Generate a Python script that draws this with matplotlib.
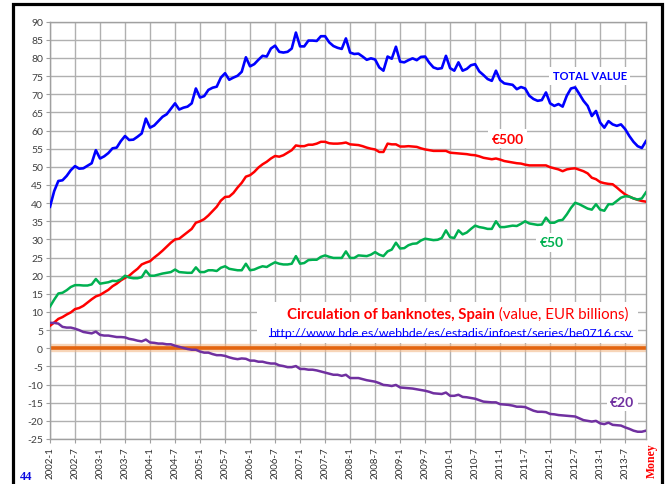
import matplotlib
matplotlib.use("Agg")
import matplotlib.pyplot as plt
import numpy as np
from matplotlib.patches import Rectangle
from matplotlib.lines import Line2D

# ---------------- data (EUR billions, monthly 2002-1 .. 2013-12) ----------------
years = list(range(2002, 2014))
months = [f"{y}-{m}" for y in years for m in range(1, 13)]

total_value = [
    39.0, 43.3, 46.1, 46.3, 47.5, 49.1, 50.2, 49.5, 49.6, 50.3, 51.0, 54.6,
    52.3, 52.9, 53.8, 55.1, 55.3, 57.1, 58.5, 57.4, 57.5, 58.3, 59.2, 63.3,
    60.8, 61.4, 62.6, 63.8, 64.5, 66.0, 67.5, 65.8, 66.3, 66.6, 67.5, 71.6,
    69.1, 69.5, 71.2, 71.8, 72.1, 74.6, 75.8, 74.0, 74.6, 75.1, 76.2, 80.2,
    77.7, 78.3, 79.5, 80.6, 80.4, 82.6, 83.4, 81.7, 81.5, 81.7, 82.6, 87.0,
    83.2, 83.2, 84.8, 84.8, 84.7, 86.0, 86.0, 84.3, 83.3, 82.8, 82.5, 85.4,
    81.5, 81.1, 81.2, 80.4, 79.5, 79.9, 79.6, 77.4, 76.5, 80.4, 79.8, 83.1,
    79.0, 78.8, 79.4, 79.9, 79.4, 80.3, 80.4, 78.7, 77.4, 77.0, 77.2, 80.6,
    77.2, 76.5, 78.8, 76.5, 77.0, 78.0, 78.3, 76.3, 75.3, 74.2, 73.7, 76.5,
    73.9, 73.0, 72.8, 72.6, 71.4, 72.0, 71.6, 69.6, 68.7, 68.2, 68.4, 70.5,
    67.5, 66.8, 67.3, 66.6, 69.6, 71.6, 71.9, 70.1, 68.2, 66.8, 64.0, 65.4,
    62.2, 60.8, 62.6, 61.7, 61.3, 61.7, 60.4, 58.5, 56.9, 55.7, 55.2, 57.1,
]

eur500 = [
    6.2, 7.1, 8.1, 8.6, 9.3, 9.9, 10.8, 11.1, 11.7, 12.6, 13.5, 14.3,
    14.7, 15.4, 16.1, 17.1, 17.8, 18.7, 19.4, 20.0, 21.0, 21.9, 23.1, 23.6,
    24.0, 25.0, 25.9, 26.9, 28.0, 29.1, 30.0, 30.2, 31.1, 32.0, 32.9, 34.6,
    35.0, 35.6, 36.6, 37.8, 39.0, 40.7, 41.7, 41.8, 42.8, 44.3, 45.6, 47.3,
    47.7, 48.6, 49.8, 50.7, 51.4, 52.3, 53.0, 52.8, 53.2, 53.9, 54.6, 55.9,
    55.7, 55.7, 56.1, 56.1, 56.4, 56.9, 56.9, 56.5, 56.4, 56.4, 56.5, 56.7,
    56.2, 56.1, 56.0, 55.7, 55.3, 55.0, 54.8, 54.1, 54.1, 56.4, 56.2, 56.2,
    55.6, 55.6, 55.7, 55.6, 55.5, 55.1, 54.8, 54.6, 54.4, 54.4, 54.4, 54.4,
    53.9, 53.8, 53.7, 53.6, 53.5, 53.3, 53.2, 52.9, 52.5, 52.3, 52.1, 52.3,
    52.0, 51.6, 51.4, 51.2, 51.0, 50.9, 50.6, 50.4, 50.4, 50.4, 50.4, 50.4,
    49.9, 49.6, 49.3, 48.8, 49.3, 49.5, 49.6, 49.2, 48.8, 48.2, 47.0, 46.6,
    45.8, 45.5, 45.3, 45.2, 44.3, 43.3, 42.4, 41.8, 41.3, 40.9, 40.6, 40.4,
]

eur50 = [
    11.5, 13.4, 15.1, 15.3, 16.0, 16.9, 17.4, 17.4, 17.3, 17.3, 17.6, 19.1,
    17.8, 18.0, 18.2, 18.6, 18.5, 19.0, 20.0, 19.5, 19.3, 19.3, 19.6, 21.4,
    20.0, 20.0, 20.3, 20.6, 20.8, 21.0, 21.7, 21.0, 20.9, 20.8, 20.8, 22.3,
    21.0, 21.0, 21.5, 21.5, 21.3, 22.2, 22.6, 21.9, 21.7, 21.5, 21.5, 23.3,
    21.5, 21.7, 22.2, 22.6, 22.4, 23.1, 23.7, 23.3, 23.1, 23.1, 23.3, 25.4,
    23.3, 23.5, 24.3, 24.4, 24.4, 25.2, 25.6, 25.2, 24.9, 24.9, 24.9, 26.7,
    24.9, 24.9, 25.6, 25.5, 25.4, 25.8, 26.5, 25.8, 25.4, 26.7, 27.2, 29.1,
    27.5, 27.6, 28.4, 28.8, 28.9, 29.7, 30.2, 30.0, 29.8, 29.9, 30.4, 32.5,
    30.6, 30.4, 32.5, 31.4, 31.9, 32.9, 33.8, 33.4, 33.2, 32.9, 32.9, 35.0,
    33.4, 33.4, 33.6, 33.8, 33.7, 34.3, 35.0, 34.4, 34.2, 34.0, 34.1, 36.0,
    34.6, 34.6, 35.2, 35.4, 36.9, 38.7, 40.1, 39.7, 39.1, 38.5, 38.2, 39.7,
    38.2, 37.9, 39.7, 39.7, 40.6, 41.5, 41.9, 41.8, 41.3, 41.0, 41.3, 43.0,
]

eur20 = [
    7.0, 7.0, 6.8, 5.9, 5.7, 5.7, 5.4, 5.0, 4.5, 4.3, 4.1, 4.6,
    3.7, 3.5, 3.5, 3.3, 3.1, 3.1, 3.0, 2.6, 2.4, 2.1, 1.9, 2.4,
    1.6, 1.5, 1.3, 1.3, 1.1, 1.1, 0.7, 0.4, 0.1, -0.2, -0.4, -0.4,
    -0.9, -1.2, -1.2, -1.6, -1.9, -1.9, -2.1, -2.5, -2.8, -3.0, -2.8, -2.9,
    -3.4, -3.4, -3.7, -3.7, -4.0, -4.2, -4.2, -4.7, -4.9, -5.2, -5.2, -4.9,
    -5.7, -5.7, -5.9, -5.9, -6.1, -6.4, -6.7, -7.0, -7.3, -7.3, -7.6, -7.3,
    -8.2, -8.2, -8.2, -8.5, -8.8, -9.0, -9.2, -9.6, -10.1, -10.2, -10.4, -10.1,
    -10.8, -10.9, -11.0, -11.1, -11.3, -11.5, -11.7, -12.0, -12.4, -12.5, -12.6, -12.2,
    -13.1, -13.1, -12.8, -13.4, -13.5, -13.7, -13.9, -14.3, -14.7, -14.8, -14.9, -14.9,
    -15.4, -15.5, -15.6, -15.8, -16.1, -16.1, -16.2, -16.7, -17.2, -17.5, -17.5, -17.6,
    -18.1, -18.2, -18.4, -18.5, -18.6, -18.7, -18.8, -19.3, -19.8, -20.0, -20.2, -20.0,
    -20.7, -20.9, -20.5, -21.1, -21.2, -21.3, -21.8, -22.2, -22.7, -23.0, -23.0, -22.7,
]

tick_labels = months[::6]
y_ticks = list(range(-25, 91, 5))

# ---------------- figure ----------------
plt.rcParams['font.family'] = ['Lato', 'DejaVu Sans']
fig = plt.figure(figsize=(6.67, 4.85), dpi=100)
ax = fig.add_axes([50 / 667, 1 - 440 / 485, 596 / 667, (440 - 22.7) / 485])

x = np.arange(len(months))
grid_c = '#b0b0b0'
ax.set_xlim(0, len(months) - 1)
ax.set_ylim(-25, 90)
ax.set_xticks(x[::6])
ax.set_xticklabels(tick_labels, rotation=90, fontsize=7, color='#303030')
ax.set_yticks(y_ticks)
ax.set_yticklabels([str(v) for v in y_ticks], fontsize=7.5, color='#404040')
ax.set_axisbelow(True)
ax.grid(True, color=grid_c, linewidth=1.0)
for s in ax.spines.values():
    s.set_color('#a0a0a0')
    s.set_linewidth(1.0)
ax.tick_params(axis='both', length=3, color='#a0a0a0', pad=2)

# white box behind title
ax.add_patch(Rectangle((0.347, 0.231), 0.640, 0.098, transform=ax.transAxes,
                       facecolor='white', edgecolor='none', zorder=1.5))

# zero line with glow
ax.axhline(0, color='#f3b98a', lw=6, alpha=0.6, zorder=2)
ax.axhline(0, color='#e4650f', lw=2.6, zorder=2.1)

ax.plot(x, total_value, color='#0000ff', lw=1.9, zorder=3)
ax.plot(x, eur500, color='#ff0000', lw=1.8, zorder=3)
ax.plot(x, eur50, color='#00b050', lw=1.8, zorder=3)
ax.plot(x, eur20, color='#7030a0', lw=1.8, zorder=3)

box = dict(facecolor='white', edgecolor='none', pad=2.5)
ax.text(0.906, 0.870, 'TOTAL VALUE', transform=ax.transAxes, color='#0000ff',
        fontsize=8, fontweight='bold', ha='center', va='center', bbox=box, zorder=4)
ax.text(0.768, 0.719, '€500', transform=ax.transAxes, color='#ff0000',
        fontsize=10, fontweight='bold', ha='center', va='center', bbox=box, zorder=4)
ax.text(0.842, 0.472, '€50', transform=ax.transAxes, color='#00b050',
        fontsize=10, fontweight='bold', ha='center', va='center', bbox=box, zorder=4)
ax.text(0.960, 0.0887, '€20', transform=ax.transAxes, color='#7030a0',
        fontsize=10, fontweight='bold', ha='center', va='center', bbox=box, zorder=4)

t1 = ax.text(0.398, 0.2995, 'Circulation of banknotes, Spain', transform=ax.transAxes,
             color='#ff0000', fontsize=10.8, fontweight='bold', ha='left', va='center', zorder=4)
ax.annotate(' (value, EUR billions)', xy=(1, 0.5), xycoords=t1, color='#ff0000',
            fontsize=10.8, ha='left', va='center', zorder=4)
url = ax.text(0.672, 0.256, 'http://www.bde.es/webbde/es/estadis/infoest/series/be0716.csv',
              transform=ax.transAxes, color='#0000ff', fontsize=8.9, ha='center',
              va='center', zorder=4)

# side texts
fig.text(20 / 667, 1 - 477 / 485, '44', color='#0a0ae0', fontsize=9,
         fontweight='bold', family='Liberation Serif', ha='left', va='center')
fig.text(652 / 667, 1 - 461 / 485, 'Money', color='#ff0000', fontsize=8.5,
         fontweight='bold', family='Liberation Serif', rotation=90, ha='center', va='center')

# black frame (bottom edge off-canvas)
fig.patches.append(Rectangle((13.5 / 667, -0.2), (662 - 13.5) / 667, 1.2 - 4.5 / 485,
                             transform=fig.transFigure, fill=False, edgecolor='black',
                             lw=2.3, zorder=10))

# underline URL
fig.canvas.draw()
r = fig.canvas.get_renderer()
bb = url.get_window_extent(r)
inv = fig.transFigure.inverted()
(x0, y0), (x1, _) = inv.transform([(bb.x0, bb.y0 + 1.8), (bb.x1, bb.y0 + 1.8)])
fig.add_artist(Line2D([x0, x1], [y0, y0], transform=fig.transFigure, color='#0000ff', lw=0.8))

fig.savefig('out.png', dpi=100)
